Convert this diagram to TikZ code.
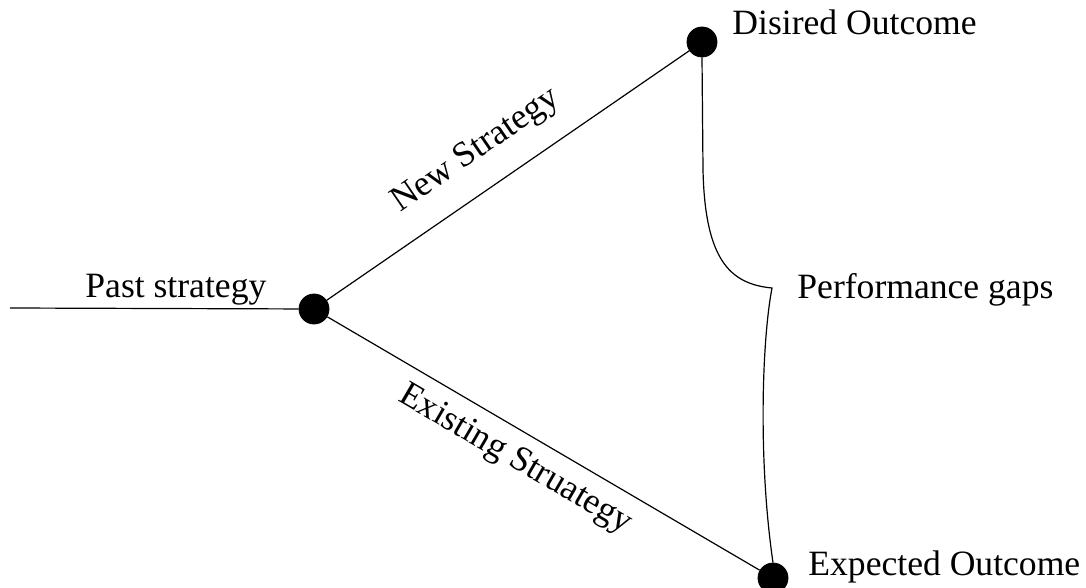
\documentclass[tikz,border=0pt]{standalone}
\usepackage{fontspec}
\setmainfont{Liberation Serif}
\usetikzlibrary{positioning}
\tikzset{
  bigdot/.style={circle,fill=black,draw=black,inner sep=0pt,minimum size=15pt},
  lbl/.style={font=\fontsize{17.8}{21}\selectfont,inner sep=0pt},
  link/.style={line width=0.6pt}
}
\begin{document}
\begin{tikzpicture}[x=0.5pt,y=-0.5pt]
  \useasboundingbox (0,0) rectangle (1086,588);
  % outcome points
  \coordinate (start) at (10,308);
  \node[bigdot] (past) at (314,309) {};
  \node[bigdot] (desired) at (702,42) {};
  \node[bigdot] (expected) at (773,578) {};
  % strategy lines
  \draw[link] (start) -- (past);
  \draw[link] (past) -- (desired);
  \draw[link] (past) -- (expected);
  \node[lbl,anchor=base west] (pastlbl) at (85,297) {Past strategy};
  \node[lbl,anchor=base west] (desiredlbl) at (732,35) {Disired Outcome};
  \node[lbl,anchor=base west] (expectedlbl) at (808,575) {Expected Outcome};
  \node[lbl,rotate=34.4] (newlbl) at (476,151) {New Strategy};
  \node[lbl,rotate=-30.3] (existlbl) at (515,460) {Existing Struategy};
  % gap brace
  \coordinate (tip) at (772,288);
  \draw[link] (desired.south) -- (703,170) .. controls (705,260) and (730,284) .. (tip)
    .. controls (762,340) and (758,460) .. (expected.north);
  \node[lbl,anchor=base west] (gaplbl) at (797,298) {Performance gaps};
\end{tikzpicture}
\end{document}
